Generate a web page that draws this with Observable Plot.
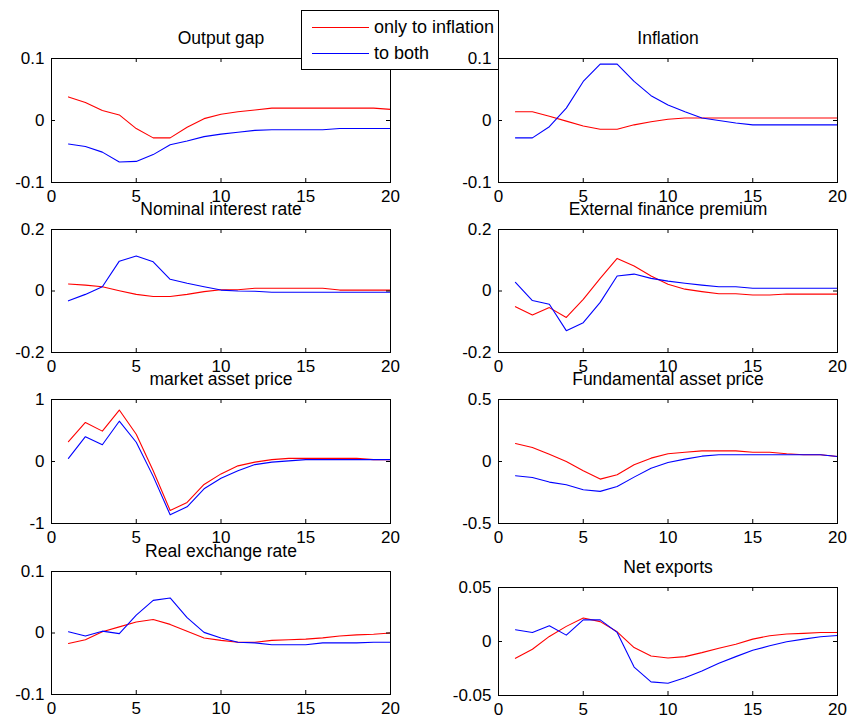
<!DOCTYPE html>
<html>
<head>
<meta charset="utf-8">
<script src="https://cdn.jsdelivr.net/npm/d3@7"></script>
<script src="https://cdn.jsdelivr.net/npm/@observablehq/plot@0.6"></script>
<style>
  body { margin: 0; background: #fff; }
  #wrap { position: relative; width: 850px; height: 721px; overflow: hidden; background: #fff;
          font-family: "Liberation Sans", Arial, sans-serif; }
  .panel { position: absolute; }
  #legend { position: absolute; left: 301px; top: 10px; width: 196px; height: 58px;
            border: 1px solid #000; background: #fff; font-size: 18px; color: #000; }
  .lg-row { position: absolute; left: 10px; height: 20px; display: flex; align-items: center; }
  .lg-line { width: 57px; height: 0; border-top: 1px solid; margin-right: 5px; }
</style>
</head>
<body>
<div id="wrap"></div>
<script>
// ---- data ----
const periods = [1,2,3,4,5,6,7,8,9,10,11,12,13,14,15,16,17,18,19,20];
const seriesNames = ["only to inflation", "to both"];
const seriesColors = ["#ff0000", "#0000ff"];
const xTicks = [0, 5, 10, 15, 20];

const outputGapInfl = [0.038,0.029,0.016,0.009,-0.013,-0.028,-0.028,-0.011,0.003,0.010,0.014,0.017,0.020,0.020,0.020,0.020,0.020,0.020,0.020,0.018];
const outputGapBoth = [-0.038,-0.042,-0.051,-0.067,-0.066,-0.055,-0.039,-0.033,-0.026,-0.022,-0.019,-0.016,-0.015,-0.015,-0.015,-0.015,-0.013,-0.013,-0.013,-0.013];

const inflationInfl = [0.014,0.014,0.007,-0.001,-0.009,-0.014,-0.014,-0.007,-0.002,0.002,0.004,0.004,0.004,0.004,0.004,0.004,0.004,0.004,0.004,0.004];
const inflationBoth = [-0.028,-0.028,-0.010,0.020,0.063,0.091,0.091,0.063,0.040,0.025,0.014,0.004,0.000,-0.004,-0.007,-0.007,-0.007,-0.007,-0.007,-0.007];

const nominalRateInfl = [0.023,0.019,0.014,0.001,-0.011,-0.018,-0.018,-0.011,-0.002,0.004,0.004,0.009,0.009,0.009,0.009,0.009,0.003,0.003,0.003,0.003];
const nominalRateBoth = [-0.032,-0.011,0.014,0.097,0.114,0.095,0.038,0.025,0.014,0.003,0.000,-0.001,-0.004,-0.004,-0.004,-0.004,-0.004,-0.004,-0.004,-0.004];

const premiumInfl = [-0.051,-0.078,-0.054,-0.086,-0.027,0.041,0.106,0.081,0.049,0.022,0.006,-0.002,-0.009,-0.009,-0.013,-0.013,-0.010,-0.010,-0.010,-0.010];
const premiumBoth = [0.028,-0.031,-0.043,-0.129,-0.103,-0.037,0.049,0.055,0.041,0.032,0.025,0.019,0.014,0.014,0.009,0.009,0.009,0.009,0.009,0.009];

const marketPriceInfl = [0.32,0.63,0.49,0.83,0.44,-0.15,-0.79,-0.66,-0.37,-0.20,-0.07,-0.01,0.03,0.05,0.05,0.05,0.05,0.05,0.03,0.03];
const marketPriceBoth = [0.05,0.40,0.27,0.65,0.31,-0.24,-0.86,-0.73,-0.44,-0.27,-0.15,-0.05,-0.01,0.01,0.03,0.03,0.03,0.03,0.03,0.03];

const fundPriceInfl = [0.145,0.113,0.059,0.000,-0.075,-0.142,-0.107,-0.027,0.027,0.062,0.075,0.086,0.086,0.086,0.075,0.075,0.062,0.054,0.054,0.040];
const fundPriceBoth = [-0.115,-0.129,-0.166,-0.188,-0.228,-0.241,-0.201,-0.126,-0.054,-0.008,0.019,0.043,0.054,0.054,0.054,0.054,0.054,0.054,0.054,0.040];

const exchangeInfl = [-0.017,-0.011,0.002,0.010,0.018,0.022,0.014,0.003,-0.008,-0.012,-0.015,-0.015,-0.012,-0.011,-0.010,-0.008,-0.005,-0.003,-0.002,0.000];
const exchangeBoth = [0.002,-0.005,0.003,-0.001,0.029,0.053,0.057,0.025,0.001,-0.008,-0.015,-0.016,-0.019,-0.019,-0.019,-0.016,-0.016,-0.016,-0.015,-0.015];

const exportsInfl = [-0.0156,-0.0072,0.0047,0.0140,0.0218,0.0184,0.0090,-0.0056,-0.0134,-0.0153,-0.0140,-0.0103,-0.0062,-0.0025,0.0022,0.0053,0.0069,0.0075,0.0084,0.0084];
const exportsBoth = [0.0109,0.0084,0.0146,0.0059,0.0200,0.0200,0.0084,-0.0237,-0.0374,-0.0386,-0.0336,-0.0274,-0.0202,-0.0140,-0.0081,-0.0040,-0.0003,0.0022,0.0044,0.0056];

const titles = ["Output gap","Inflation","Nominal interest rate","External finance premium",
                "market asset price","Fundamental asset price","Real exchange rate","Net exports"];
const yDomains = [[-0.1,0.1],[-0.1,0.1],[-0.2,0.2],[-0.2,0.2],[-1,1],[-0.5,0.5],[-0.1,0.1],[-0.05,0.05]];
const yTicks = [[-0.1,0,0.1],[-0.1,0,0.1],[-0.2,0,0.2],[-0.2,0,0.2],[-1,0,1],[-0.5,0,0.5],[-0.1,0,0.1],[-0.05,0,0.05]];
const seriesPairs = [[outputGapInfl,outputGapBoth],[inflationInfl,inflationBoth],[nominalRateInfl,nominalRateBoth],
  [premiumInfl,premiumBoth],[marketPriceInfl,marketPriceBoth],[fundPriceInfl,fundPriceBoth],
  [exchangeInfl,exchangeBoth],[exportsInfl,exportsBoth]];

// ---- layout (plot-area boxes in page pixels) ----
const boxes = [
  {l:51,  t:58,  r:390, b:182}, {l:498, t:58,  r:837, b:182},
  {l:51,  t:229, r:390, b:352}, {l:498, t:229, r:837, b:352},
  {l:51,  t:399, r:390, b:523}, {l:498, t:399, r:837, b:523},
  {l:51,  t:571, r:390, b:694}, {l:498, t:587, r:837, b:695}
];
const ML = 60, MR = 15, MT = 34, MB = 30, TICK = 4;
const fmt = d => String(d);
const wrap = document.getElementById("wrap");

function makePanel(i) {
  const bx = boxes[i];
  const W = bx.r - bx.l, H = bx.b - bx.t;
  const [a, b] = seriesPairs[i];
  const data = [];
  periods.forEach((p, k) => data.push({x: p, y: a[k], s: seriesNames[0]}));
  periods.forEach((p, k) => data.push({x: p, y: b[k], s: seriesNames[1]}));
  const chart = Plot.plot({
    width: W + ML + MR,
    height: H + MT + MB,
    marginLeft: ML, marginRight: MR, marginTop: MT, marginBottom: MB,
    style: {background: "transparent", color: "#000", fontSize: "17px",
            fontFamily: '"Liberation Sans", Arial, sans-serif', overflow: "visible"},
    x: {domain: [0, 20], label: null},
    y: {domain: yDomains[i], label: null},
    color: {domain: seriesNames, range: seriesColors},
    marks: [
      Plot.line(data, {x: "x", y: "y", z: "s", stroke: "s", strokeWidth: 1.1}),
      // inward tick marks on all four sides (MATLAB box style)
      Plot.ruleX(xTicks, {x: d => d, insetTop: H - TICK, stroke: "#000"}),
      Plot.ruleX(xTicks, {x: d => d, insetBottom: H - TICK, stroke: "#000"}),
      Plot.ruleY(yTicks[i], {y: d => d, insetRight: W - TICK, stroke: "#000"}),
      Plot.ruleY(yTicks[i], {y: d => d, insetLeft: W - TICK, stroke: "#000"}),
      Plot.frame({stroke: "#000", strokeWidth: 1}),
      Plot.axisX({anchor: "bottom", ticks: xTicks, tickSize: 0, tickPadding: 7, tickFormat: fmt, label: null, fontSize: 17}),
      Plot.axisY({anchor: "left", ticks: yTicks[i], tickSize: 0, tickPadding: 7, tickFormat: fmt, label: null, fontSize: 17}),
      Plot.text([titles[i]], {text: d => d, frameAnchor: "top", dy: -20, lineAnchor: "middle", fontSize: 17.5})
    ]
  });
  chart.classList.add("panel");
  chart.style.left = (bx.l - ML) + "px";
  chart.style.top = (bx.t - MT) + "px";
  chart.style.maxWidth = "none";
  wrap.appendChild(chart);
}

// left column first, then legend, then right column
[0, 2, 4, 6].forEach(makePanel);

const legend = document.createElement("div");
legend.id = "legend";
seriesNames.forEach((name, k) => {
  const row = document.createElement("div");
  row.className = "lg-row";
  row.style.top = (k === 0 ? 6 : 32) + "px";
  const ln = document.createElement("div");
  ln.className = "lg-line";
  ln.style.borderTopColor = seriesColors[k];
  const tx = document.createElement("span");
  tx.textContent = name;
  row.appendChild(ln); row.appendChild(tx);
  legend.appendChild(row);
});
wrap.appendChild(legend);

[1, 3, 5, 7].forEach(makePanel);
</script>
</body>
</html>
